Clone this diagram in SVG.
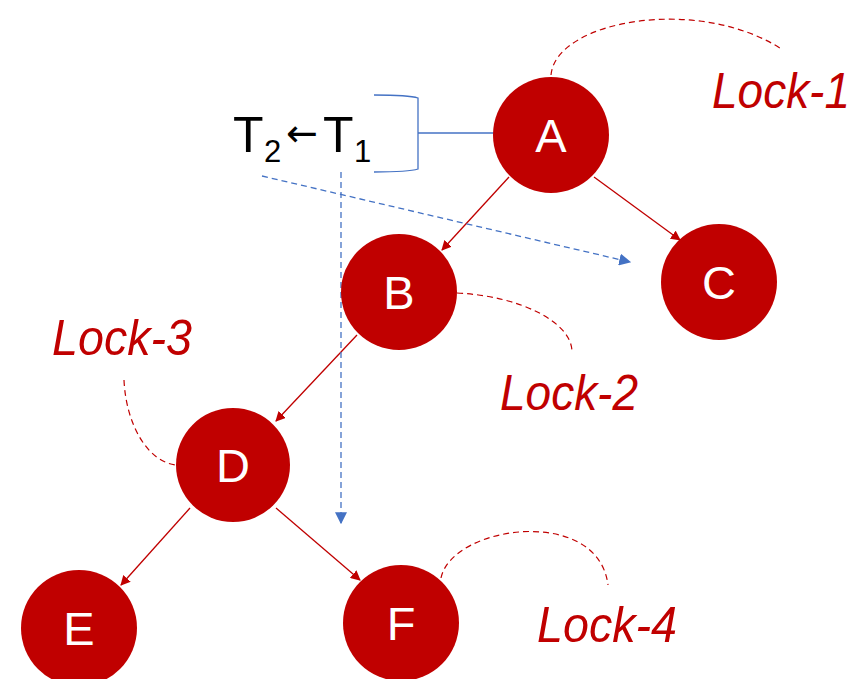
<svg xmlns="http://www.w3.org/2000/svg" width="868" height="679" viewBox="0 0 868 679">
  <defs>
    <marker id="arrRed" viewBox="0 0 10 10" refX="9" refY="5" markerWidth="10" markerHeight="10" markerUnits="userSpaceOnUse" orient="auto">
      <path d="M0,0 L10,5 L0,10 z" fill="#C00000"/>
    </marker>
    <marker id="arrBlue" viewBox="0 0 10 10" refX="9" refY="5" markerWidth="12" markerHeight="12" markerUnits="userSpaceOnUse" orient="auto">
      <path d="M0,0 L10,5 L0,10 z" fill="#4472C4"/>
    </marker>
  </defs>
  <style>
    .node circle { fill: #C00000; }
    .node text { fill: #FFFFFF; font-family: "Liberation Sans", "Open Sans", sans-serif; font-size: 47px; text-anchor: middle; }
    .edge { stroke: #C00000; stroke-width: 1.3; fill: none; marker-end: url(#arrRed); }
    .lockcurve { stroke: #C00000; stroke-width: 1.2; fill: none; stroke-dasharray: 6 4; }
    .lock { fill: #C00000; font-family: "Liberation Sans", "Open Sans", sans-serif; font-style: italic; font-size: 50px; }
    .flow { stroke: #4472C4; stroke-width: 1.3; fill: none; stroke-dasharray: 6 4; marker-end: url(#arrBlue); }
    .bracket { stroke: #4472C4; stroke-width: 1.3; fill: none; }
    .tx { fill: #000000; font-family: "Liberation Sans", "Open Sans", sans-serif; font-size: 50px; }
    .sub { font-size: 31px; }
    .arrow { font-family: "DejaVu Sans", sans-serif; font-size: 38px; }
  </style>

  <!-- tree edges -->
  <g id="connectors">
    <line class="edge" x1="509" y1="177" x2="442" y2="250"/>
    <line class="edge" x1="594" y1="177" x2="680" y2="240"/>
    <line class="edge" x1="357" y1="335" x2="276" y2="421"/>
    <line class="edge" x1="190" y1="508" x2="121" y2="585"/>
    <line class="edge" x1="276" y1="508" x2="360" y2="580"/>
    <!-- transaction flow arrows -->
    <line class="flow" x1="262" y1="176" x2="630" y2="262"/>
    <line class="flow" x1="341" y1="172" x2="341" y2="523"/>
  </g>

  <!-- lock curves -->
  <g id="locks">
    <path class="lockcurve" d="M551,75 C556,20 700,-5 783,50"/>
    <path class="lockcurve" d="M457,293 C520,296 572,322 572,352"/>
    <path class="lockcurve" d="M124,380 C126,425 148,462 176,465"/>
    <path class="lockcurve" d="M441,578 C452,525 598,505 608,585"/>
    <text class="lock" x="712" y="108" textLength="138" lengthAdjust="spacingAndGlyphs">Lock-1</text>
    <text class="lock" x="500" y="410" textLength="138" lengthAdjust="spacingAndGlyphs">Lock-2</text>
    <text class="lock" x="52" y="355" textLength="140" lengthAdjust="spacingAndGlyphs">Lock-3</text>
    <text class="lock" x="537" y="642" textLength="140" lengthAdjust="spacingAndGlyphs">Lock-4</text>
  </g>

  <!-- transaction label with bracket -->
  <g id="transaction">
    <text class="tx"><tspan x="233" y="152">T</tspan><tspan class="sub" x="264" y="162">2</tspan><tspan class="arrow" x="286" y="146">←</tspan><tspan x="323" y="152">T</tspan><tspan class="sub" x="354" y="162">1</tspan></text>
    <path class="bracket" d="M374,95 C400,95 412,96 418,98 L418,169 C412,171 400,172 374,172"/>
    <line class="bracket" x1="418" y1="133" x2="494" y2="133"/>
  </g>

  <g id="A" class="node"><circle cx="551" cy="135" r="58"/><text x="551" y="152">A</text></g>
  <g id="B" class="node"><circle cx="399" cy="292" r="58"/><text x="399" y="309">B</text></g>
  <g id="C" class="node"><circle cx="719" cy="282" r="58"/><text x="719" y="299">C</text></g>
  <g id="D" class="node"><circle cx="233" cy="465" r="57"/><text x="233" y="482">D</text></g>
  <g id="E" class="node"><circle cx="79" cy="628" r="58"/><text x="79" y="645">E</text></g>
  <g id="F" class="node"><circle cx="401" cy="623" r="58"/><text x="401" y="640">F</text></g>
</svg>
